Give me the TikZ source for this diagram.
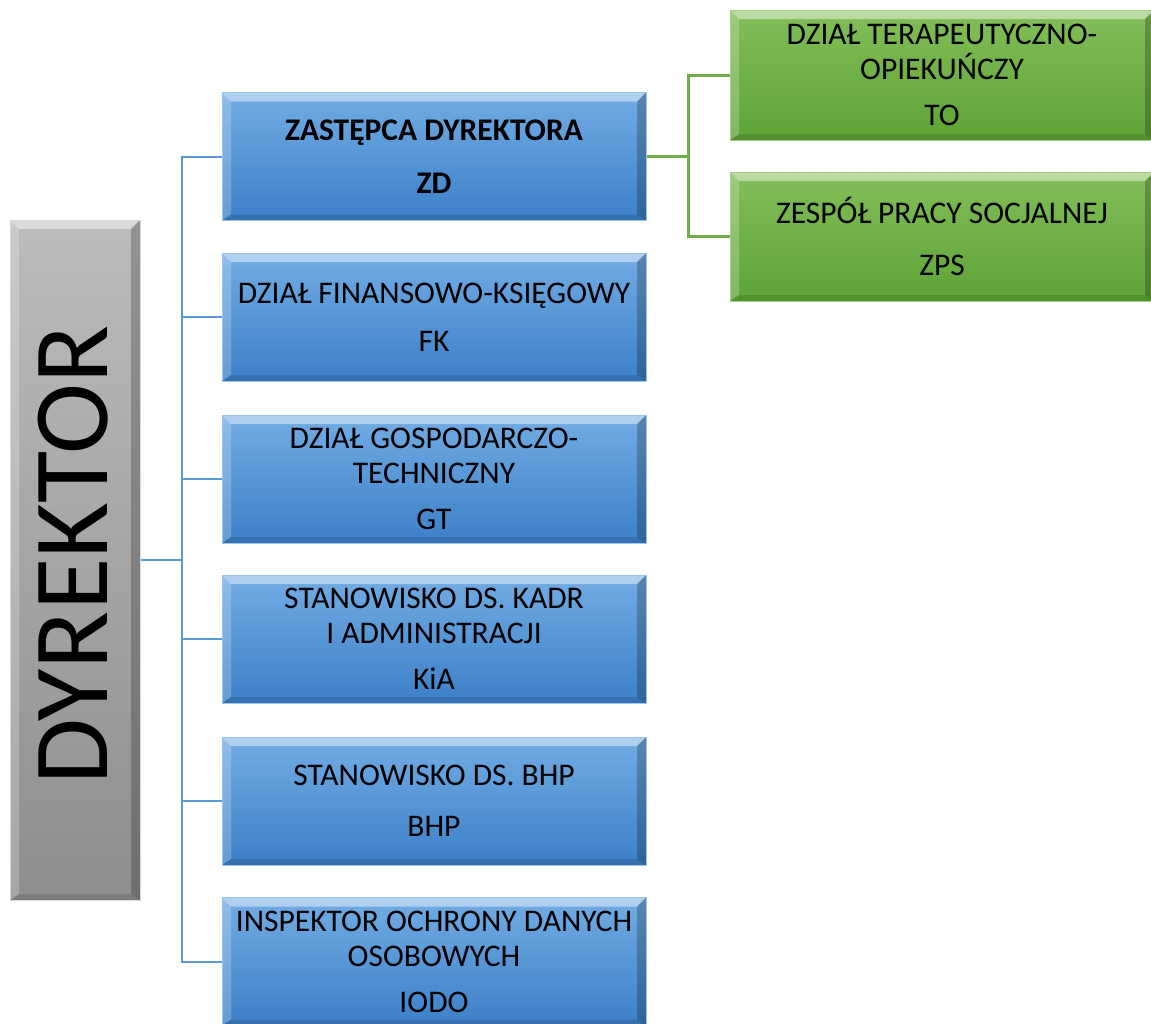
\documentclass[tikz,border=0pt]{standalone}
\usepackage{fontspec}
\setmainfont{Carlito}
\definecolor{btop}{RGB}{114,172,228}
\definecolor{bbot}{RGB}{60,128,200}
\definecolor{gtop}{RGB}{130,190,88}
\definecolor{gbot}{RGB}{94,164,54}
\definecolor{ytop}{RGB}{188,188,188}
\definecolor{ybot}{RGB}{142,142,142}
\definecolor{bline}{RGB}{91,155,213}
\definecolor{gline}{RGB}{112,173,71}
\tikzset{
  bevel/.style={path picture={
    \fill[white,opacity=0.45] (path picture bounding box.north west) -- (path picture bounding box.north east) -- ([xshift=-9pt,yshift=-9pt]path picture bounding box.north east) -- ([xshift=9pt,yshift=-9pt]path picture bounding box.north west) -- cycle;
    \fill[white,opacity=0.22] (path picture bounding box.north west) -- ([xshift=9pt,yshift=-9pt]path picture bounding box.north west) -- ([xshift=9pt,yshift=6pt]path picture bounding box.south west) -- (path picture bounding box.south west) -- cycle;
    \fill[black,opacity=0.22] (path picture bounding box.north east) -- ([xshift=-9pt,yshift=-9pt]path picture bounding box.north east) -- ([xshift=-9pt,yshift=6pt]path picture bounding box.south east) -- (path picture bounding box.south east) -- cycle;
    \fill[black,opacity=0.12] (path picture bounding box.south west) -- ([xshift=9pt,yshift=6pt]path picture bounding box.south west) -- ([xshift=-9pt,yshift=6pt]path picture bounding box.south east) -- (path picture bounding box.south east) -- cycle;
  }},
  unitbox/.style={rectangle, bevel, inner sep=0pt, align=center,
    minimum width=424pt, minimum height=128pt,
    font=\fontsize{31.5}{35}\selectfont, text=black},
  bluebox/.style={unitbox, top color=btop, bottom color=bbot, draw=btop!70!white, line width=1pt},
  greenbox/.style={unitbox, top color=gtop, bottom color=gbot, draw=gtop!70!white, line width=1pt},
  graybox/.style={rectangle, bevel, top color=ytop, bottom color=ybot, draw=ytop!60!white, line width=1pt,
    minimum width=130pt, minimum height=680pt, inner sep=0pt},
  bconn/.style={draw=bline, line width=2pt},
  gconn/.style={draw=gline, line width=3pt},
}
\begin{document}
\begin{tikzpicture}[x=1pt,y=-1pt]
\useasboundingbox (0,0) rectangle (1151,1023);
\clip (0,0) rectangle (1151,1023);
\fill[white] (0,0) rectangle (1151,1023);

% director
\node[graybox] (dyr) at (75,560) {};
\node[rotate=90, font=\fontsize{107}{107}\selectfont, inner sep=0pt] (dyrtxt) at (73,555) {DYREKTOR};

% blue boxes
\node[bluebox, font=\fontsize{31.5}{35}\selectfont\bfseries] (zd) at (434,156.5) {ZASTĘPCA DYREKTORA\\[18pt]ZD};
\node[bluebox] (fk) at (434,317) {DZIAŁ FINANSOWO-KSIĘGOWY\\[13pt]FK};
\node[bluebox] (gt) at (434,479) {DZIAŁ GOSPODARCZO-\\TECHNICZNY\\[11pt]GT};
\node[bluebox] (kia) at (434,639) {STANOWISKO DS. KADR\\I ADMINISTRACJI\\[11pt]KiA};
\node[bluebox] (bhp) at (434,801) {STANOWISKO DS. BHP\\[16pt]BHP};
\node[bluebox] (iodo) at (434,961.5) {INSPEKTOR OCHRONY DANYCH\\OSOBOWYCH\\[11pt]IODO};

% green boxes
\node[greenbox, minimum height=130pt] (to) at (942,75) {DZIAŁ TERAPEUTYCZNO-\\OPIEKUŃCZY\\[11pt]TO};
\node[greenbox, minimum height=129pt] (zps) at (942,236.5) {ZESPÓŁ PRACY SOCJALNEJ\\[17pt]ZPS};

% blue connectors
\coordinate (j) at (182,560);
\draw[bconn] (dyr.east) -- (j);
\draw[bconn] (j) |- (zd.west);
\draw[bconn] (j) |- (fk.west);
\draw[bconn] (j) |- (gt.west);
\draw[bconn] (j) |- (kia.west);
\draw[bconn] (j) |- (bhp.west);
\draw[bconn] (j) |- (iodo.west);

% green connectors
\coordinate (g) at (688,156.5);
\draw[gconn] (zd.east) -- (g);
\draw[gconn] (g) |- (to.west);
\draw[gconn] (g) |- (zps.west);
\end{tikzpicture}
\end{document}
